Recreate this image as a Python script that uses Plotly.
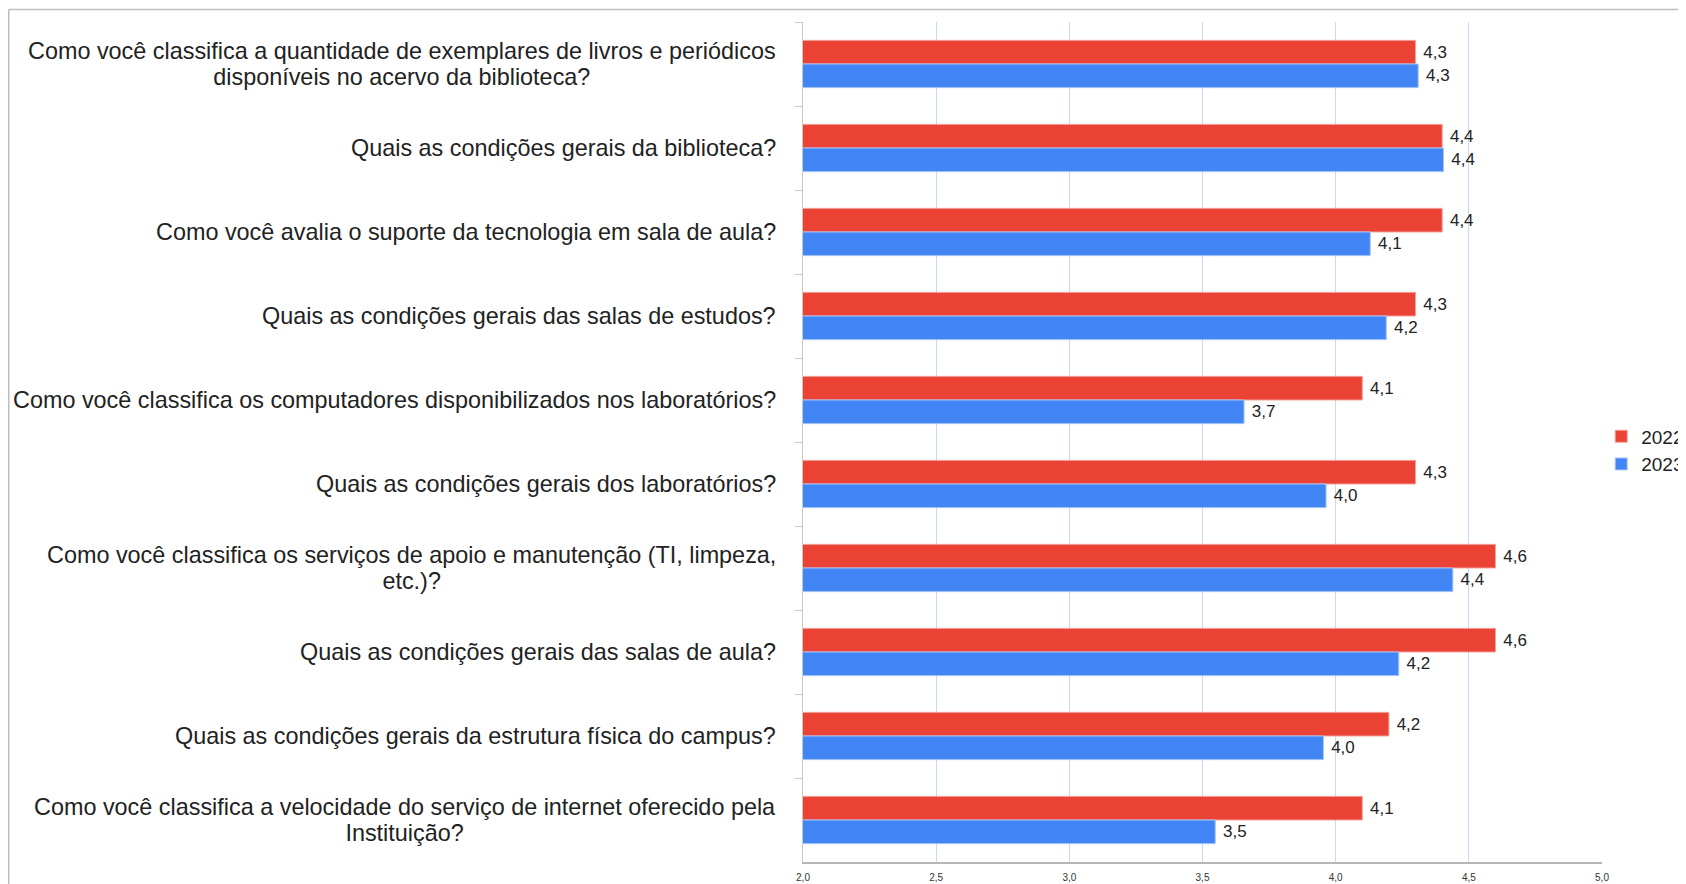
import plotly.graph_objects as go

categories = [
    "Como você classifica a quantidade de exemplares de livros e periódicos<br>disponíveis no acervo da biblioteca?",
    "Quais as condições gerais da biblioteca?",
    "Como você avalia o suporte da tecnologia em sala de aula?",
    "Quais as condições gerais das salas de estudos?",
    "Como você classifica os computadores disponibilizados nos laboratórios?",
    "Quais as condições gerais dos laboratórios?",
    "Como você classifica os serviços de apoio e manutenção (TI, limpeza,<br>etc.)?",
    "Quais as condições gerais das salas de aula?",
    "Quais as condições gerais da estrutura física do campus?",
    "Como você classifica a velocidade do serviço de internet oferecido pela<br>Instituição?",
]
series_names = ["2022", "2023"]
values_2022 = [4.30, 4.40, 4.40, 4.30, 4.10, 4.30, 4.60, 4.60, 4.20, 4.10]
values_2023 = [4.31, 4.405, 4.13, 4.19, 3.656, 3.964, 4.44, 4.237, 3.954, 3.548]
x_ticks = [2.0, 2.5, 3.0, 3.5, 4.0, 4.5, 5.0]

RED = "#EA4335"
BLUE = "#4285F4"
FONT = "Liberation Sans, Arial, sans-serif"

W, H = 1678, 876
L, T = 795, 14
PW, PH = 799, 840

fig = go.Figure()
for name, vals, col, edge in [
    (series_names[0], values_2022, RED, "#f3a39c"),
    (series_names[1], values_2023, BLUE, "#a9c6fa"),
]:
    fig.add_trace(go.Bar(
        y=categories, x=vals, name=name, orientation="h",
        marker=dict(color=col, line=dict(color=edge, width=1)),
        texttemplate="\u00a0%{x:.1f}", textposition="outside",
        textfont=dict(family=FONT, size=17, color="#222222"),
        constraintext="none", cliponaxis=False,
    ))

for c in categories:
    txt = "<br>".join("<span style='font-size:23.4px'>%s</span>" % ln for ln in c.split("<br>"))
    fig.add_annotation(
        x=0, xref="paper", y=c, yref="y", text=txt, showarrow=False,
        xanchor="right", yanchor="middle", align="center", xshift=-25,
        font=dict(family=FONT, size=20, color="#222222"),
    )

# slide frame lines
ytop = (T + PH - 1.5) / PH
xleft = (0.75 - L) / PW
fig.add_shape(type="line", xref="paper", yref="paper",
              x0=xleft, x1=1.2, y0=ytop, y1=ytop,
              line=dict(color="#bdbdbd", width=1.5))
fig.add_shape(type="line", xref="paper", yref="paper",
              x0=xleft, x1=xleft, y0=ytop, y1=-0.1,
              line=dict(color="#bdbdbd", width=1.5))

fig.update_layout(
    width=W, height=H,
    margin=dict(l=L, r=W - L - PW, t=T, b=H - T - PH, autoexpand=False),
    paper_bgcolor="white", plot_bgcolor="white",
    barmode="group", bargap=0.437, bargroupgap=0,
    separators=",.",
    font=dict(family=FONT, color="#222222"),
    showlegend=True,
    legend=dict(x=0.999, xanchor="left", y=0.49, yanchor="middle",
                traceorder="normal", font=dict(family=FONT, size=19, color="#222222"),
                bgcolor="rgba(0,0,0,0)", borderwidth=0),
    xaxis=dict(range=[2, 5], tickvals=x_ticks, tickformat=".1f",
               showgrid=True, gridcolor="#cbd8f3", gridwidth=1,
               zeroline=False, showline=True, linecolor="#b5b5b5", linewidth=1.5,
               ticks="", ticklabelstandoff=5,
               tickfont=dict(family=FONT, size=10, color="#333333")),
    yaxis=dict(autorange="reversed", type="category", showticklabels=False,
               ticks="outside", tickson="boundaries", ticklen=7, tickcolor="#c8c8c8",
               showline=True, linecolor="#c8c8c8", linewidth=1,
               showgrid=False, zeroline=False),
)

fig.write_html("out.html")
